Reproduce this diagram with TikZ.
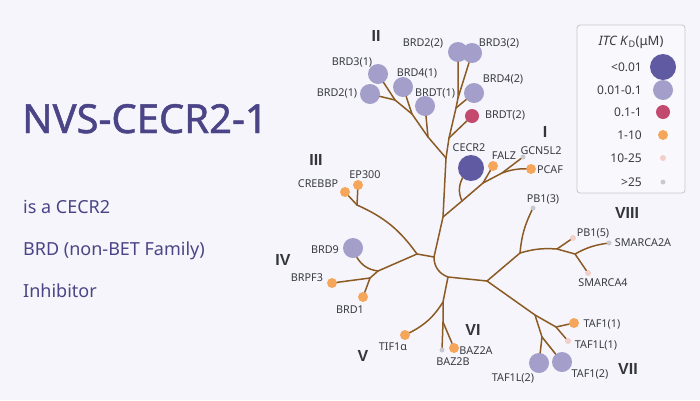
\documentclass[tikz,border=0pt]{standalone}
\usepackage{fontspec}
\setmainfont{Noto Sans}
\newfontfamily\titlefont{Noto Sans}[FakeBold=1.2]
\newfontfamily\famfont{Liberation Sans}
\usepackage{xcolor}
\usepackage{tikz}
\usetikzlibrary{positioning}

\definecolor{bgcol}{HTML}{F5F5FB}
\definecolor{titlecol}{HTML}{4B4486}
\definecolor{branchcol}{HTML}{8C5A24}
\definecolor{dotA}{HTML}{5F5AA2}
\definecolor{dotB}{HTML}{A39FCA}
\definecolor{dotC}{HTML}{C4496E}
\definecolor{dotD}{HTML}{F5A65B}
\definecolor{dotE}{HTML}{F2CFC8}
\definecolor{dotF}{HTML}{C9C9D1}
\definecolor{labelcol}{HTML}{3A3A42}
\definecolor{legline}{HTML}{C6C6CE}

\begin{document}
\begin{tikzpicture}[x=1pt, y=-1pt, font=\fontsize{10.8}{12}\selectfont,
    branch/.style={draw=branchcol, line width=1.5pt, line cap=round, line join=round},
    leaf/.style={circle, inner sep=0pt, minimum size=#1},
    kdA/.style={leaf=26pt, fill=dotA},
    kdB/.style={leaf=20pt, fill=dotB},
    kdC/.style={leaf=14pt, fill=dotC},
    kdD/.style={leaf=10pt, fill=dotD},
    kdE/.style={leaf=6pt, fill=dotE},
    kdF/.style={leaf=5pt, fill=dotF},
    lbl/.style={text=labelcol, inner sep=0pt},
    legtxt/.style={text=labelcol, inner sep=0pt, anchor=east, font=\fontsize{12}{14}\selectfont},
    famnum/.style={text=labelcol!90!black, inner sep=0pt, font=\famfont\bfseries\fontsize{16}{18}\selectfont},
    subtxt/.style={text=titlecol, anchor=base west, inner sep=0pt, font=\fontsize{18}{20}\selectfont}]
  \useasboundingbox (0,0) rectangle (700,400);
  \fill[bgcol] (0,0) rectangle (700,400);

  % left text
  \node[anchor=base west, inner sep=0pt, text=titlecol, font=\titlefont\fontsize{40}{42}\selectfont] (title) at (22,133) {NVS-CECR2-1};
  \node[subtxt] (sub1) at (23,213) {is a CECR2};
  \node[subtxt] (sub2) at (23,255) {BRD (non-BET Family)};
  \node[subtxt] (sub3) at (23,297) {Inhibitor};

  % joints
  \coordinate (root) at (434,257);
  \coordinate (jI0) at (443,217);
  \coordinate (jI1) at (462,201);
  \coordinate (jI2) at (483,183);
  \coordinate (jI3) at (502,173);
  \coordinate (jII) at (446,158);
  \coordinate (jIIa) at (428,137);
  \coordinate (jIIb) at (412,114);
  \coordinate (jIIc) at (395,100);
  \coordinate (jIId) at (449,138);
  \coordinate (jIIe) at (456,108);
  \coordinate (jIIf) at (458,98);
  \coordinate (jN) at (417,254);
  \coordinate (jIII) at (357,205);
  \coordinate (jIV) at (378,271);
  \coordinate (jIVb) at (370,278);
  \coordinate (jS) at (448,277);
  \coordinate (jT) at (487,281);
  \coordinate (jQ) at (443,302);
  \coordinate (jQb) at (443,322);
  \coordinate (jU) at (520,253);
  \coordinate (jX) at (557,249);
  \coordinate (jY) at (575,254);
  \coordinate (jV1) at (535,315);
  \coordinate (jV2) at (556,327);
  \coordinate (jV3) at (542,337);

  % leaves
  \node[kdB] (brd31) at (378,74) {};
  \node[kdB] (brd21) at (370,94) {};
  \node[kdB] (brd41) at (403,87) {};
  \node[kdB] (brdt1) at (425,106) {};
  \node[kdB] (brd22) at (458,52) {};
  \node[kdB] (brd32) at (472,53) {};
  \node[kdB] (brd42) at (474,93) {};
  \node[kdC] (brdt2) at (472,116) {};
  \node[kdA] (cecr2) at (471,168) {};
  \node[kdD] (falz) at (493,166) {};
  \node[kdF] (gcn) at (523,157) {};
  \node[kdD] (pcaf) at (531,169) {};
  \node[kdD] (crebbp) at (345,192) {};
  \node[kdD] (ep300) at (358,185) {};
  \node[kdB] (brd9) at (353,248) {};
  \node[kdD] (brpf3) at (332,283) {};
  \node[kdD] (brd1) at (363,297) {};
  \node[kdD] (tif) at (405,335) {};
  \node[kdF] (baz2b) at (442,350) {};
  \node[kdD] (baz2a) at (454,348) {};
  \node[kdB] (taf1l2) at (539,363) {};
  \node[kdB] (taf12) at (562,362) {};
  \node[kdD] (taf11) at (574,323) {};
  \node[kdE] (taf1l1) at (568,341) {};
  \node[kdF] (pb13) at (533,208) {};
  \node[kdE] (pb15) at (573,238) {};
  \node[kdF] (smarca2a) at (609,243) {};
  \node[kdE] (smarca4) at (588,273) {};

  % branches
  \draw[branch] (root) -- (jI0) -- (jII);
  \draw[branch] (jII) -- (jIIa) -- (jIIb) -- (jIIc) -- (brd31);
  \draw[branch] (brd21) -- (jIIc);
  \draw[branch] (brd41) -- (jIIb);
  \draw[branch] (brdt1) -- (jIIa);
  \draw[branch] (jII) -- (jIId) -- (jIIe) -- (jIIf) -- (brd22);
  \draw[branch] (jIIf) -- (brd32);
  \draw[branch] (jIIe) -- (brd42);
  \draw[branch] (jIId) -- (brdt2);
  \draw[branch] (jI0) -- (jI1) -- (jI2) -- (jI3) -- (gcn);
  \draw[branch] (jI1) to[bend left=25] (cecr2);
  \draw[branch] (jI2) -- (falz);
  \draw[branch] (jI3) to[bend left=10] (pcaf);
  \draw[branch] (root) -- (jN) to[bend right=15] (jIII) -- (crebbp);
  \draw[branch] (jIII) -- (ep300);
  \draw[branch] (jN) -- (jIV) -- (jIVb) -- (brpf3);
  \draw[branch] (jIVb) -- (brd1);
  \draw[branch] (jIV) to[bend left=25] (brd9);
  \draw[branch] (root) to[bend right=35] (jS) -- (jT);
  \draw[branch] (jS) -- (jQ) -- (jQb) -- (baz2b);
  \draw[branch] (jQb) -- (baz2a);
  \draw[branch] (jQ) to[bend left=15] (tif);
  \draw[branch] (jT) -- (jV1) -- (jV2) -- (taf11);
  \draw[branch] (jV2) -- (taf1l1);
  \draw[branch] (jV1) -- (jV3) -- (taf1l2);
  \draw[branch] (jV3) -- (taf12);
  \draw[branch] (jT) -- (jU) to[bend left=10] (pb13);
  \draw[branch] (jU) to[bend left=10] (jX) -- (jY) to[bend left=10] (smarca2a);
  \draw[branch] (jX) -- (pb15);
  \draw[branch] (jY) -- (smarca4);

  % family numbers
  \node[famnum] (famI) at (545,132) {I};
  \node[famnum] (famII) at (376,36) {II};
  \node[famnum] (famIII) at (316,160) {III};
  \node[famnum] (famIV) at (283,260) {IV};
  \node[famnum] (famV) at (363,356) {V};
  \node[famnum] (famVI) at (473,330) {VI};
  \node[famnum] (famVII) at (628,369) {VII};
  \node[famnum] (famVIII) at (627,213) {VIII};

  % leaf labels
  \node[lbl] (tbrd31) at (352,62) {BRD3(1)};
  \node[lbl] (tbrd21) at (337,93) {BRD2(1)};
  \node[lbl] (tbrd41) at (417,73) {BRD4(1)};
  \node[lbl] (tbrdt1) at (435,93) {BRDT(1)};
  \node[lbl] (tbrd22) at (423,43) {BRD2(2)};
  \node[lbl] (tbrd32) at (499,43) {BRD3(2)};
  \node[lbl] (tbrd42) at (503,79) {BRD4(2)};
  \node[lbl] (tbrdt2) at (505,115) {BRDT(2)};
  \node[lbl] (tcecr2) at (469,148) {CECR2};
  \node[lbl] (tfalz) at (504,156) {FALZ};
  \node[lbl] (tgcn) at (541,151) {GCN5L2};
  \node[lbl] (tpcaf) at (550,170) {PCAF};
  \node[lbl] (tcrebbp) at (318,184) {CREBBP};
  \node[lbl] (tep300) at (365,175) {EP300};
  \node[lbl] (tbrd9) at (325,250) {BRD9};
  \node[lbl] (tbrpf3) at (307,278) {BRPF3};
  \node[lbl] (tbrd1) at (350,310) {BRD1};
  \node[lbl] (ttif) at (393,347) {TIF1α};
  \node[lbl] (tbaz2a) at (476,351) {BAZ2A};
  \node[lbl] (tbaz2b) at (453,362) {BAZ2B};
  \node[lbl] (ttaf11) at (602,324) {TAF1(1)};
  \node[lbl] (ttaf1l1) at (596,345) {TAF1L(1)};
  \node[lbl] (ttaf12) at (590,374) {TAF1(2)};
  \node[lbl] (ttaf1l2) at (513,378) {TAF1L(2)};
  \node[lbl] (tpb13) at (543,199) {PB1(3)};
  \node[lbl] (tpb15) at (593,233) {PB1(5)};
  \node[lbl] (tsmarca2a) at (643,243) {SMARCA2A};
  \node[lbl] (tsmarca4) at (603,283) {SMARCA4};

  % legend
  \node[draw=legline, line width=0.8pt, fill=bgcol!60!white, rounded corners=3pt,
        minimum width=108pt, minimum height=168pt, inner sep=0pt] (legend) at (631,109) {};
  \node[lbl, font=\fontsize{13}{15}\selectfont] (legtitle) at (631,42) {\textit{ITC K}\textsubscript{D}(μM)};
  \node[legtxt] (legA) at (642,67) {<0.01};
  \node[legtxt] (legB) at (642,90) {0.01-0.1};
  \node[legtxt] (legC) at (642,112) {0.1-1};
  \node[legtxt] (legD) at (642,135) {1-10};
  \node[legtxt] (legE) at (642,158) {10-25};
  \node[legtxt] (legF) at (642,182) {>25};
  \node[kdA] (keyA) at (663,67) {};
  \node[kdB] (keyB) at (663,90) {};
  \node[kdC] (keyC) at (663,112) {};
  \node[kdD] (keyD) at (663,135) {};
  \node[kdE] (keyE) at (663,158) {};
  \node[kdF] (keyF) at (663,182) {};
\end{tikzpicture}
\end{document}
